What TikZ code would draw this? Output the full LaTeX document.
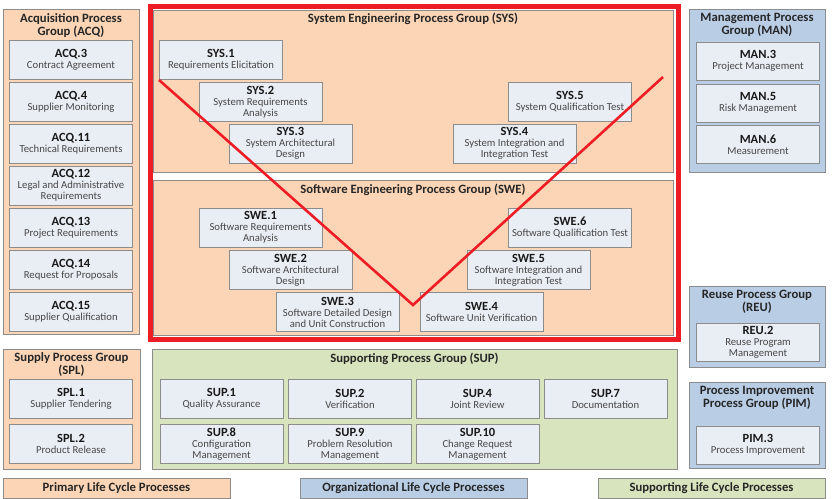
\documentclass[tikz,border=0pt]{standalone}
\usepackage{fontspec}
\setmainfont{Carlito}
\usetikzlibrary{positioning}
\definecolor{peach}{HTML}{FBD5B5}
\definecolor{pabox}{HTML}{E9EEF5}
\definecolor{orgblue}{HTML}{B9CDE5}
\definecolor{supgreen}{HTML}{D7E4BD}
\definecolor{vred}{HTML}{EE1C25}
\definecolor{edge}{HTML}{8C8C8C}
\newcommand{\procarea}[2]{{\fontsize{12.5}{13}\selectfont\bfseries\color{black!90}#1}\\#2}

\begin{document}
\begin{tikzpicture}[x=1pt, y=-1pt,
    grp/.style={draw=edge, line width=0.8pt, inner sep=0pt},
    pa/.style={draw=edge, line width=0.8pt, fill=pabox, align=center, minimum width=123pt, minimum height=39pt, inner sep=0pt, font=\fontsize{10.7}{11}\selectfont, text=black!72},
    title/.style={align=center, inner sep=1pt, font=\fontsize{12.7}{13}\selectfont\bfseries, text=black!85},
    legend/.style={draw=edge, line width=0.8pt, minimum width=227pt, minimum height=20pt, inner sep=0pt, font=\fontsize{12.7}{13}\selectfont\bfseries, text=black!85},
    vline/.style={vred, line width=2.6pt}
]
\useasboundingbox[fill=white] (0,0) rectangle (832,498);

\node[grp, fill=peach, minimum width=136pt, minimum height=325pt] (acq) at (71,171.5) {};
\node[title, below=3.5pt of acq.north] (acqtitle) {Acquisition Process\\Group (ACQ)};
\node[pa] (acq3) at (71,59.5) {\procarea{ACQ.3}{Contract Agreement}};
\node[pa, below=2.2pt of acq3] (acq4) {\procarea{ACQ.4}{Supplier Monitoring}};
\node[pa, below=2.2pt of acq4] (acq11) {\procarea{ACQ.11}{Technical Requirements}};
\node[pa, below=2.2pt of acq11] (acq12) {\procarea{ACQ.12}{Legal and Administrative\\Requirements}};
\node[pa, below=2.2pt of acq12] (acq13) {\procarea{ACQ.13}{Project Requirements}};
\node[pa, below=2.2pt of acq13] (acq14) {\procarea{ACQ.14}{Request for Proposals}};
\node[pa, below=2.2pt of acq14] (acq15) {\procarea{ACQ.15}{Supplier Qualification}};

\node[grp, fill=peach, minimum width=137pt, minimum height=120pt] (spl) at (71.5,409) {};
\node[title, below=3pt of spl.north] (spltitle) {Supply Process Group\\(SPL)};
\node[pa] (spl1) at (71,398.5) {\procarea{SPL.1}{Supplier Tendering}};
\node[pa, below=5.2pt of spl1] (spl2) {\procarea{SPL.2}{Product Release}};

\node[grp, fill=peach, minimum width=520pt, minimum height=162pt] (sys) at (413,91) {};
\node[title] (systitle) at (413,19) {System Engineering Process Group (SYS)};
\node[pa] (sys1) at (221,60) {\procarea{SYS.1}{Requirements Elicitation}};
\node[pa] (sys2) at (260.5,102) {\procarea{SYS.2}{System Requirements\\Analysis}};
\node[pa] (sys3) at (290.5,143.5) {\procarea{SYS.3}{System Architectural\\Design}};
\node[pa] (sys4) at (514.5,143.5) {\procarea{SYS.4}{System Integration and\\Integration Test}};
\node[pa] (sys5) at (570,102) {\procarea{SYS.5}{System Qualification Test}};

\node[grp, fill=peach, minimum width=520pt, minimum height=155pt] (swe) at (413,257.5) {};
\node[title] (swetitle) at (413,190) {Software Engineering Process Group (SWE)};
\node[pa] (swe1) at (260.5,227.5) {\procarea{SWE.1}{Software Requirements\\Analysis}};
\node[pa] (swe2) at (290.5,270) {\procarea{SWE.2}{Software Architectural\\Design}};
\node[pa] (swe3) at (337.5,312) {\procarea{SWE.3}{Software Detailed Design\\and Unit Construction}};
\node[pa] (swe4) at (481.5,312) {\procarea{SWE.4}{Software Unit Verification}};
\node[pa] (swe5) at (528.5,270) {\procarea{SWE.5}{Software Integration and\\Integration Test}};
\node[pa] (swe6) at (570,227.5) {\procarea{SWE.6}{Software Qualification Test}};

\node[draw=vred, line width=5pt, minimum width=528pt, minimum height=333pt] (vframe) at (414,172.5) {};

\node[grp, fill=supgreen, minimum width=525pt, minimum height=120pt] (sup) at (414.5,409) {};
\node[title] (suptitle) at (414.5,359) {Supporting Process Group (SUP)};
\node[pa] (sup1) at (221.5,398.5) {\procarea{SUP.1}{Quality Assurance}};
\node[pa] (sup2) at (350,398.5) {\procarea{SUP.2}{Verification}};
\node[pa] (sup4) at (477.5,398.5) {\procarea{SUP.4}{Joint Review}};
\node[pa] (sup7) at (605.5,398.5) {\procarea{SUP.7}{Documentation}};
\node[pa] (sup8) at (221.5,444) {\procarea{SUP.8}{Configuration\\Management}};
\node[pa] (sup9) at (350,444) {\procarea{SUP.9}{Problem Resolution\\Management}};
\node[pa] (sup10) at (477.5,444) {\procarea{SUP.10}{Change Request\\Management}};

\node[grp, fill=orgblue, minimum width=136pt, minimum height=163pt] (man) at (757,90.5) {};
\node[title, below=3.5pt of man.north] (mantitle) {Management Process\\Group (MAN)};
\node[pa, minimum height=38pt] (man3) at (758,61) {\procarea{MAN.3}{Project Management}};
\node[pa, minimum height=38pt] (man5) at (758,103) {\procarea{MAN.5}{Risk Management}};
\node[pa, minimum height=38pt] (man6) at (758,144.5) {\procarea{MAN.6}{Measurement}};

\node[grp, fill=orgblue, minimum width=136pt, minimum height=81pt] (reu) at (757,326.5) {};
\node[title, below=3pt of reu.north] (reutitle) {Reuse Process Group\\(REU)};
\node[pa, minimum height=38pt] (reu2) at (758,342) {\procarea{REU.2}{Reuse Program\\Management}};

\node[grp, fill=orgblue, minimum width=136pt, minimum height=86pt] (pim) at (757,425) {};
\node[title, below=3pt of pim.north] (pimtitle) {Process Improvement\\Process Group (PIM)};
\node[pa, minimum height=38pt] (pim3) at (758,445) {\procarea{PIM.3}{Process Improvement}};

\node[legend, fill=peach] (primary) at (116.5,488) {Primary Life Cycle Processes};
\node[legend, fill=orgblue] (organizational) at (413.5,488) {Organizational Life Cycle Processes};
\node[legend, fill=supgreen] (supporting) at (711.5,488) {Supporting Life Cycle Processes};

\coordinate (vleft) at (159,80);
\coordinate (vbottom) at (413,305);
\coordinate (vright) at (663,77);
\draw[vline] (vleft) -- (vbottom) -- (vright);
\end{tikzpicture}
\end{document}
